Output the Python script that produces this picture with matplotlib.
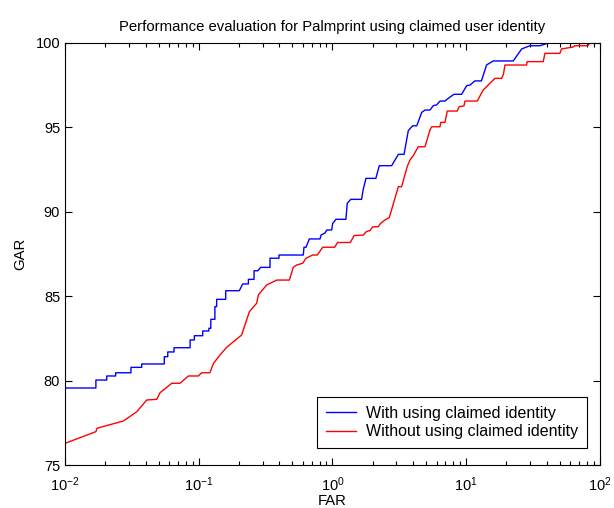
import numpy as np
import matplotlib
matplotlib.use("Agg")
import matplotlib.pyplot as plt
from matplotlib.ticker import LogLocator, NullFormatter

plt.rcParams['font.family'] = ['Liberation Sans', 'DejaVu Sans']

# curve with claimed identity (FAR %, GAR %)
far_with = [0.01, 0.01, 0.0170, 0.0170, 0.0205, 0.0205, 0.0239, 0.0239, 0.0311, 0.0311,
            0.0374, 0.0374, 0.0552, 0.0552, 0.0586, 0.0586, 0.0653, 0.0653, 0.0861, 0.0861,
            0.0927, 0.0927, 0.107, 0.107, 0.119, 0.119, 0.123, 0.123, 0.132, 0.132,
            0.136, 0.136, 0.159, 0.159, 0.201, 0.213, 0.235, 0.235, 0.259, 0.259,
            0.277, 0.290, 0.341, 0.341, 0.398, 0.398, 0.605, 0.612, 0.634, 0.671,
            0.807, 0.821, 0.879, 0.906, 0.987, 1.003, 1.062, 1.26, 1.29, 1.37,
            1.65, 1.70, 1.78, 2.11, 2.24, 2.77, 3.11, 3.43, 3.69, 3.98,
            4.27, 4.65, 4.92, 5.36, 5.68, 6.01, 6.37, 6.94, 7.35, 8.10,
            9.25, 10.08, 10.7, 11.6, 13.0, 14.2, 15.9, 22.5, 26.0, 30.0,
            35.6, 42.3, 100]
gar_with = [75.0, 79.58, 79.58, 80.05, 80.05, 80.29, 80.29, 80.48, 80.48, 80.80,
            80.80, 81.0, 81.0, 81.43, 81.43, 81.71, 81.71, 81.96, 81.96, 82.42,
            82.42, 82.67, 82.67, 82.95, 82.95, 83.11, 83.11, 83.64, 83.64, 84.39,
            84.39, 84.82, 84.82, 85.33, 85.33, 85.73, 85.73, 86.0, 86.0, 86.51,
            86.51, 86.71, 86.71, 87.25, 87.25, 87.44, 87.44, 87.9, 87.9, 88.39,
            88.39, 88.62, 88.74, 88.92, 88.92, 89.31, 89.55, 89.55, 90.50, 90.73,
            90.73, 91.34, 91.97, 91.97, 92.72, 92.72, 93.39, 93.39, 94.79, 95.08,
            95.08, 95.87, 96.01, 96.01, 96.27, 96.31, 96.54, 96.54, 96.70, 96.94,
            96.94, 97.45, 97.49, 97.73, 97.73, 98.67, 98.91, 98.91, 99.62, 99.81,
            99.81, 100.0, 100.0]

# curve without claimed identity
far_without = [0.01, 0.01, 0.0170, 0.0173, 0.0273, 0.0344, 0.0408, 0.0485, 0.0513, 0.0628,
               0.0725, 0.0836, 0.0993, 0.105, 0.121, 0.129, 0.144, 0.162, 0.209, 0.215,
               0.239, 0.271, 0.279, 0.322, 0.383, 0.476, 0.509, 0.540, 0.598, 0.634,
               0.711, 0.770, 0.845, 1.04, 1.09, 1.36, 1.45, 1.70, 1.79, 1.91,
               2.00, 2.20, 2.29, 2.47, 2.66, 2.93, 3.11, 3.29, 3.62, 3.80,
               4.02, 4.38, 4.92, 5.36, 5.52, 6.37, 6.45, 6.94, 7.22, 8.57,
               8.87, 9.62, 9.79, 12.1, 13.4, 14.6, 16.4, 18.4, 19.0, 19.5,
               28.3, 28.6, 37.7, 38.8, 50.2, 51.7, 62.8, 65.0, 81.3, 84.1,
               100]
gar_without = [75.0, 76.31, 77.0, 77.2, 77.63, 78.18, 78.87, 78.91, 79.30, 79.86,
               79.86, 80.29, 80.29, 80.48, 80.48, 81.04, 81.53, 81.99, 82.71, 83.0,
               84.09, 84.59, 85.08, 85.67, 85.96, 85.96, 86.71, 86.85, 86.95, 87.25,
               87.44, 87.44, 87.90, 87.90, 88.18, 88.18, 88.59, 88.62, 88.82, 88.89,
               89.11, 89.11, 89.31, 89.51, 89.65, 90.79, 91.48, 91.48, 92.66, 93.06,
               93.31, 93.84, 93.84, 94.83, 95.02, 95.02, 95.28, 95.28, 95.95, 95.95,
               96.21, 96.25, 96.54, 96.54, 97.19, 97.49, 97.88, 97.88, 98.12, 98.67,
               98.67, 98.87, 98.87, 99.36, 99.36, 99.62, 99.73, 99.81, 99.81, 100.0,
               100.0]

fig = plt.figure(figsize=(6.14, 5.08), dpi=100)
ax = fig.add_axes([0.106, 0.0837, 0.871, 0.8326])

ax.semilogx(far_with, gar_with, color='#0000ff', linewidth=1.0, label='With using claimed identity')
ax.semilogx(far_without, gar_without, color='#ff0000', linewidth=1.0, label='Without using claimed identity')

ax.set_xlim(1e-2, 1e2)
ax.set_ylim(75, 100)
ax.set_yticks([75, 80, 85, 90, 95, 100])
ax.xaxis.set_major_locator(LogLocator(base=10, numticks=10))
ax.xaxis.set_minor_locator(LogLocator(base=10, subs=np.arange(2, 10), numticks=20))
ax.xaxis.set_minor_formatter(NullFormatter())
ax.tick_params(which='both', direction='in', top=True, right=True, labelsize=10.5, width=0.8)
ax.tick_params(which='major', length=5)
ax.tick_params(which='minor', length=3)
ax.tick_params(axis='x', which='major', pad=7)
for s in ax.spines.values():
    s.set_linewidth(0.8)

ax.set_title('Performance evaluation for Palmprint using claimed user identity', fontsize=10.7, pad=8)
ax.set_xlabel('FAR', fontsize=10.7, labelpad=0)
ax.set_ylabel('GAR', fontsize=10.7, labelpad=6)

leg = ax.legend(loc='lower right', bbox_to_anchor=(0.9757, 0.0414), fontsize=11.5,
                fancybox=False, framealpha=1, edgecolor='black', handlelength=1.9,
                borderaxespad=0, handletextpad=0.63, borderpad=0.55, labelspacing=0.2)
leg.get_frame().set_linewidth(0.8)

fig.savefig('out.png', dpi=100)
